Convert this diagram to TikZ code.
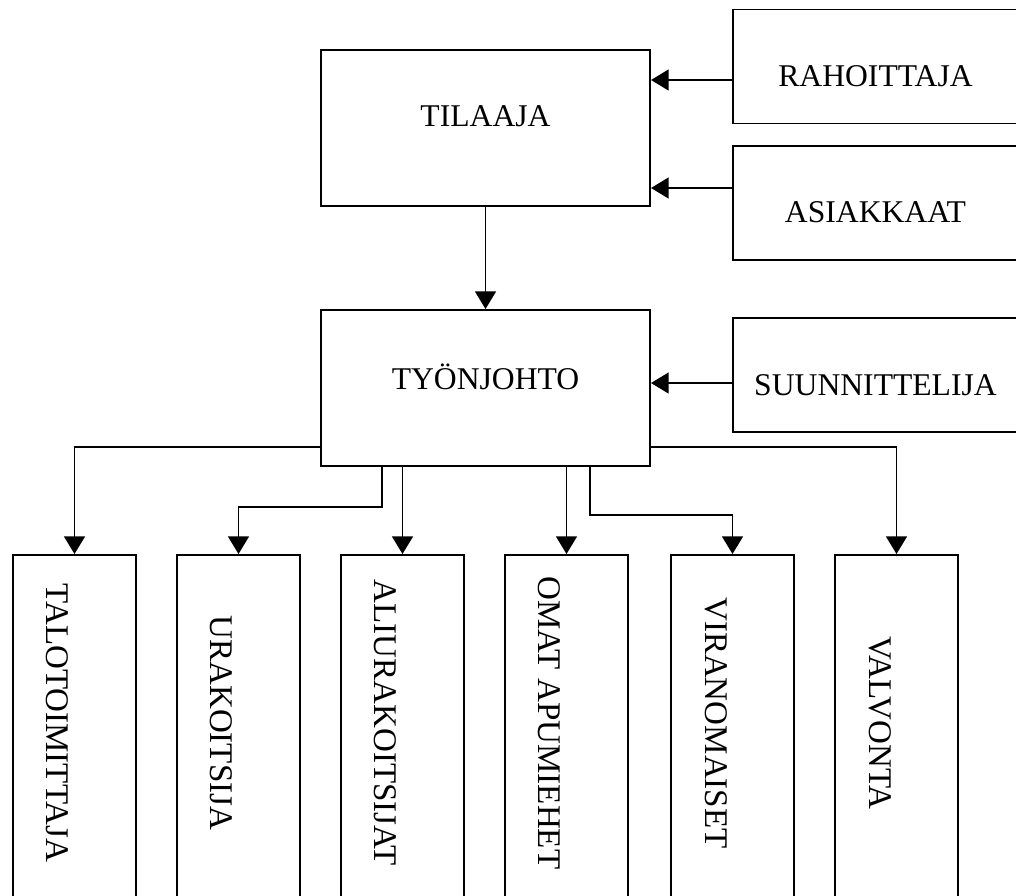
\documentclass[tikz,border=0pt]{standalone}
\usepackage{fontspec}
\setmainfont{Liberation Serif}
\usetikzlibrary{arrows.meta, positioning, calc}

\begin{document}
\begin{tikzpicture}[
  x=0.025cm, y=-0.025cm,
  box/.style     = {rectangle, draw, line width=1.35pt, inner sep=0pt},
  bigbox/.style  = {box, minimum width=8.225cm, minimum height=3.9cm},
  sidebox/.style = {box, minimum width=7.125cm, minimum height=2.85cm},
  colbox/.style  = {box, minimum width=3.075cm, minimum height=8.875cm},
  txt/.style     = {font=\fontsize{22.5}{25}\selectfont},
  vtxt/.style    = {font=\fontsize{23.5}{26}\selectfont,
                    xshift=-0.42cm, yshift=0.24cm, rotate=-90},
  arr/.style     = {-{Triangle[length=0.44cm, width=0.52cm]}, line width=1.35pt}
]

%% ── frame of the page ─────────────────────────────────────────────────────
\useasboundingbox (0,0) rectangle (1016,895);
\clip (0,0) rectangle (1016,895);

%% ── Row 0: client and its sources ─────────────────────────────────────────
\node[bigbox, label={[txt, yshift=0.3cm]center:TILAAJA}]
  (tilaaja) at (485.5,128) {};

\node[sidebox, label={[txt, yshift=-0.25cm]center:RAHOITTAJA}]
  (rahoit) at (875.5,66.5) {};

\node[sidebox, label={[txt, yshift=-0.225cm]center:ASIAKKAAT}]
  (asiak) at (875.5,203) {};

%% ── Row 1: site management ────────────────────────────────────────────────
\node[bigbox, label={[txt, yshift=0.275cm]center:TYÖNJOHTO}]
  (tyonjohto) at (485.5,388) {};

\node[sidebox, label={[txt, yshift=-0.25cm]center:SUUNNITTELIJA}]
  (suunn) at (875.5,375) {};

%% ── Row 2: vertical columns ───────────────────────────────────────────────
\node[colbox, label={[vtxt]center:TALOTOIMITTAJA}]  (talo)   at ( 74.5,732.5) {};
\node[colbox, label={[vtxt]center:URAKOITSIJA}]     (urak)   at (238.5,732.5) {};
\node[colbox, label={[vtxt]center:ALIURAKOITSIJAT}] (aliur)  at (402.5,732.5) {};
\node[colbox, label={[vtxt]center:OMAT APUMIEHET}]  (omat)   at (566.5,732.5) {};
\node[colbox, label={[vtxt]center:VIRANOMAISET}]    (viran)  at (732.5,732.5) {};
\node[colbox, label={[vtxt]center:VALVONTA}]        (valvo)  at (896.5,732.5) {};

%% ── Arrows into the upper boxes ───────────────────────────────────────────
\draw[arr] ([yshift=-0.3375cm]rahoit.west) -- ([yshift=-0.3375cm]rahoit.west -| tilaaja.east);
\draw[arr] ([yshift=0.375cm]asiak.west)    -- ([yshift=0.375cm]asiak.west -| tilaaja.east);
\draw[arr] ([yshift=-0.2cm]suunn.west)     -- ([yshift=-0.2cm]suunn.west -| tyonjohto.east);
\draw[arr] (tilaaja) -- (tyonjohto);

%% ── Arrows down to the columns ────────────────────────────────────────────
\draw[arr] ([yshift=0.5cm]tyonjohto.south west) -| (talo.north);
\draw[arr] ([xshift=1.55cm]tyonjohto.south west) -- ++(0,-1cm) -| (urak.north);
\draw[arr] (aliur.north |- tyonjohto.south) -- (aliur.north);
\draw[arr] (omat.north |- tyonjohto.south) -- (omat.north);
\draw[arr] ([xshift=-1.525cm]tyonjohto.south east) -- ++(0,-1.2cm) -| (viran.north);
\draw[arr] ([yshift=0.5cm]tyonjohto.south east) -| (valvo.north);

\end{tikzpicture}
\end{document}
